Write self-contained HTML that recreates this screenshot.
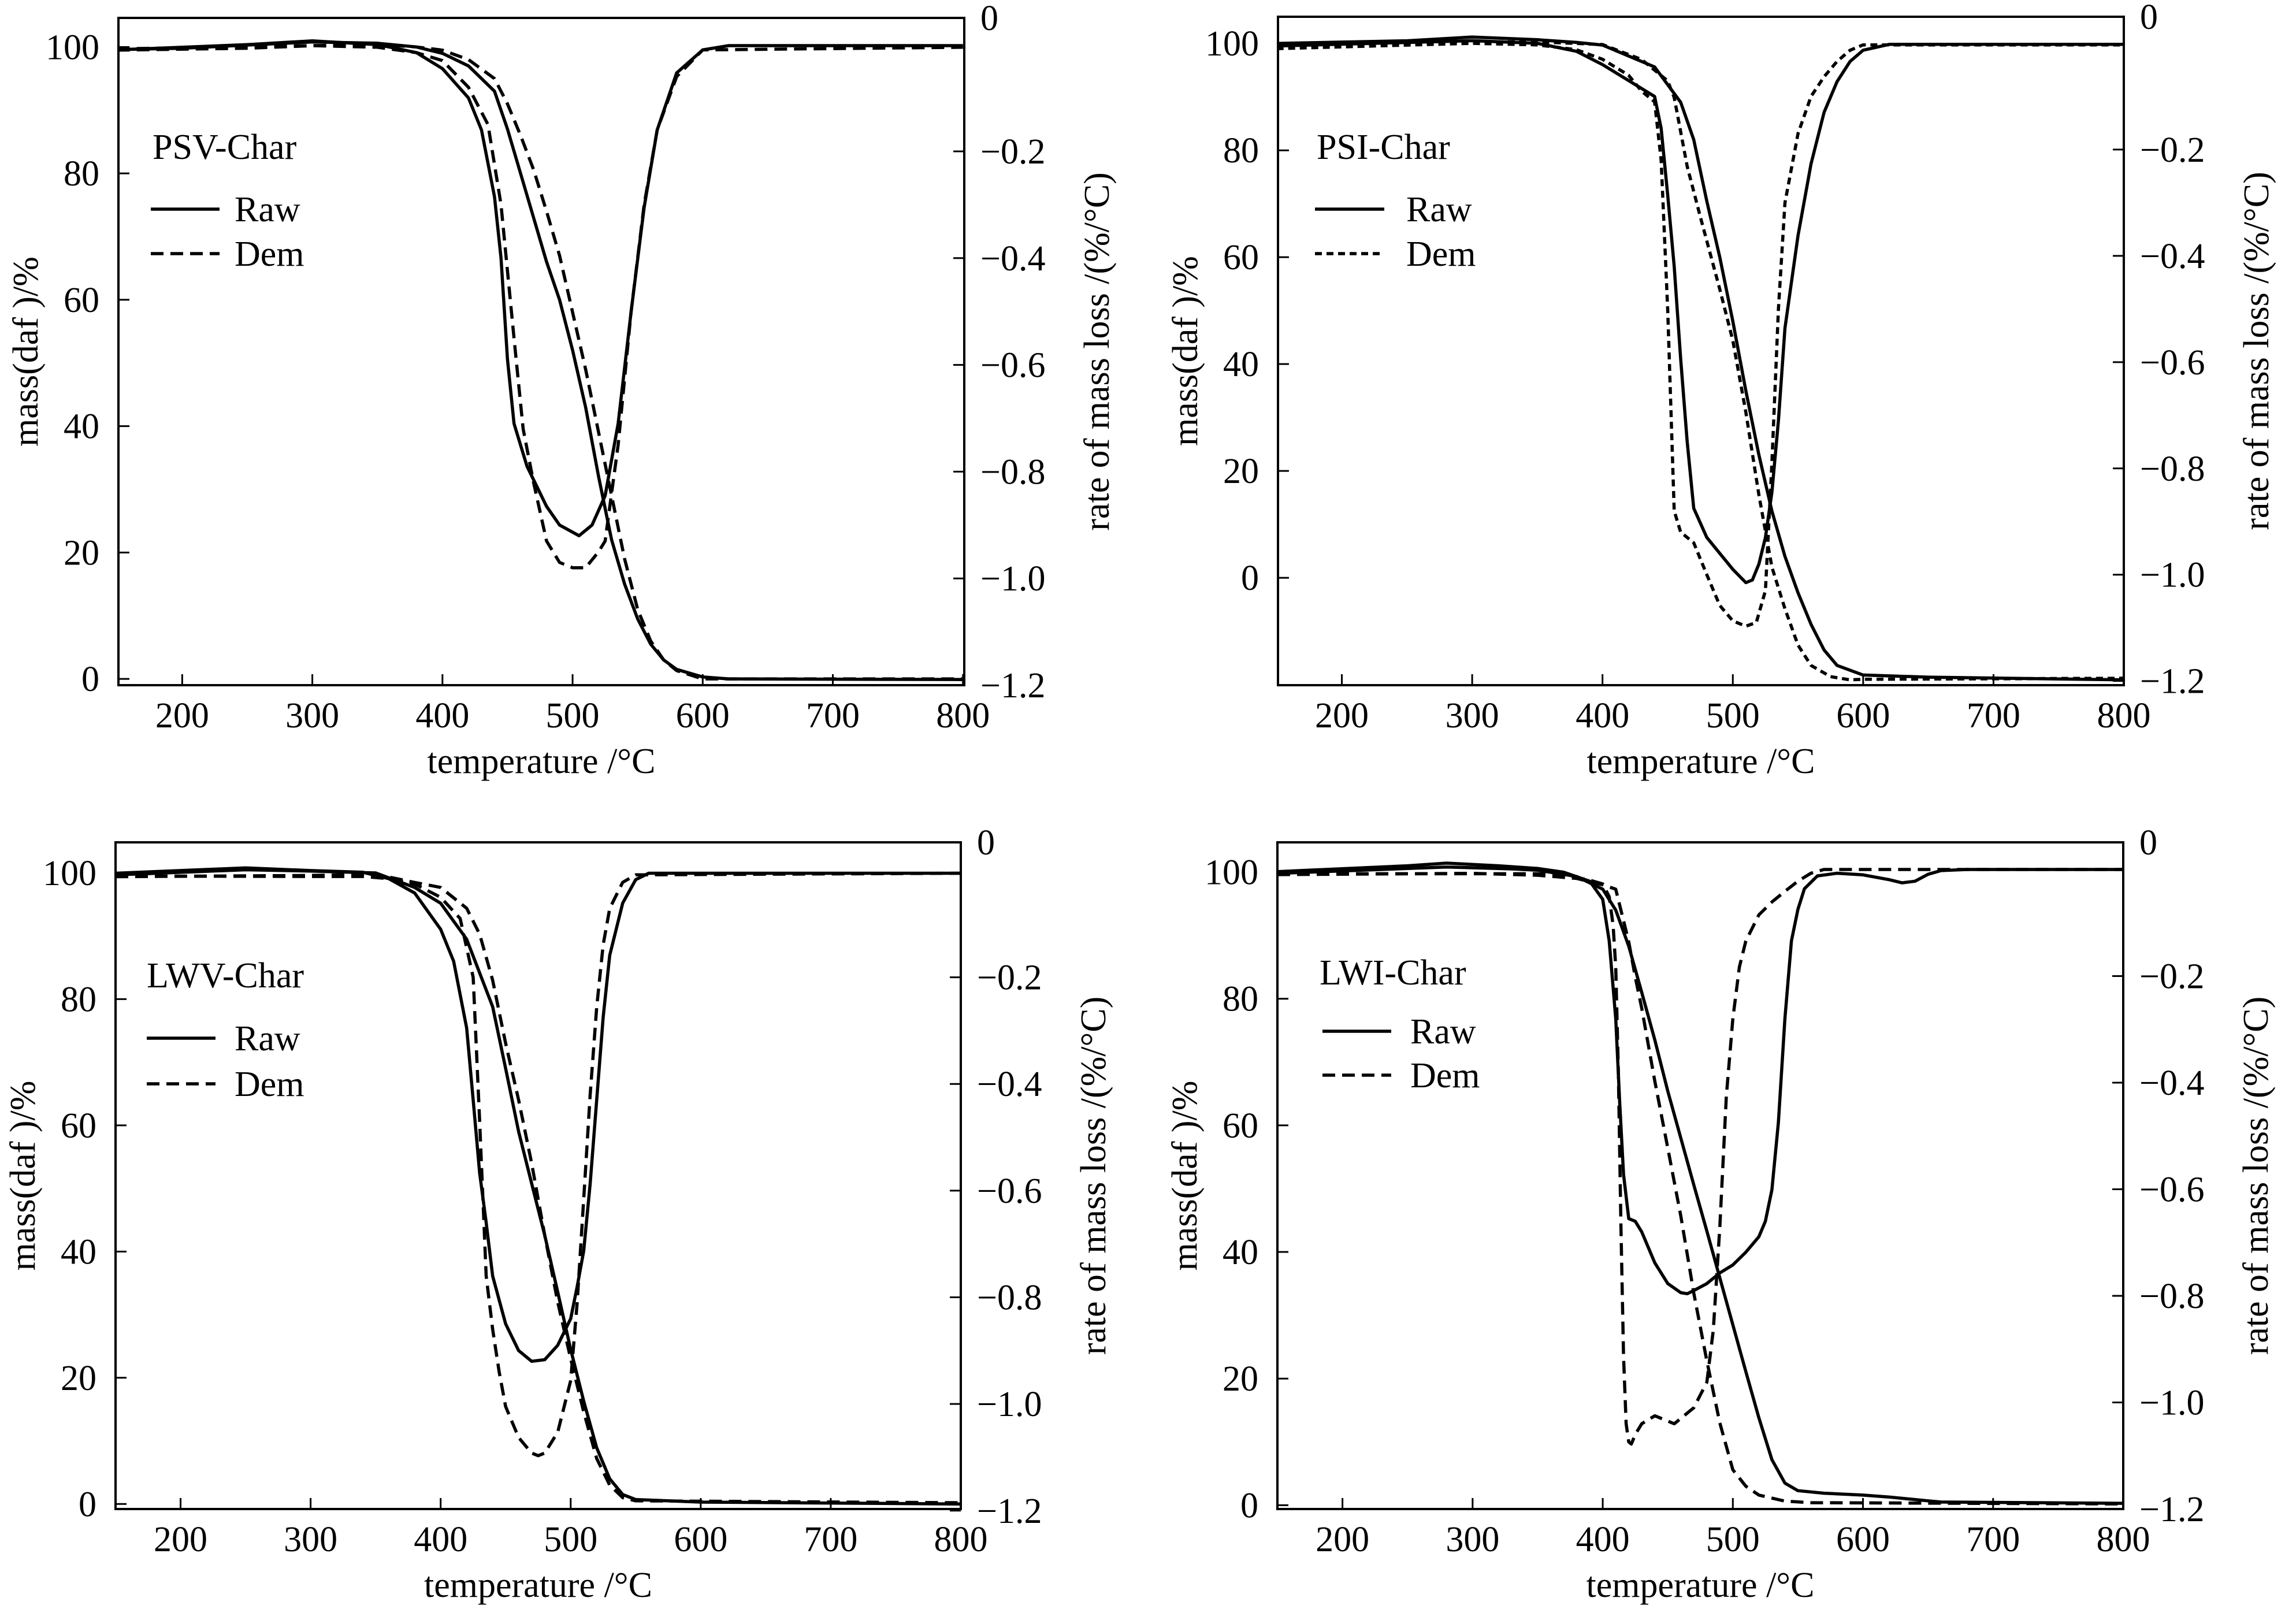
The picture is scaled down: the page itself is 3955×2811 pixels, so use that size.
<!DOCTYPE html>
<html><head><meta charset="utf-8"><style>
html,body{margin:0;padding:0;background:#fff}
svg{display:block}
text{font-family:"Liberation Serif",serif;fill:#000}
</style></head><body>
<svg id="fig" xmlns="http://www.w3.org/2000/svg" width="3955" height="2811" viewBox="0 0 3955 2811"></svg>
<script>
// ---------- data: [temperature, value] ----------
const xTicks = [200,300,400,500,600,700,800];
const massTicks = [0,20,40,60,80,100];
const rateTicks = [0,-0.2,-0.4,-0.6,-0.8,-1.0,-1.2];
const rateTickLabels = ["0","\u22120.2","\u22120.4","\u22120.6","\u22120.8","\u22121.0","\u22121.2"];

// PSV-Char
const psvRawTG = [[150,99.6],[200,99.8],[250,100.3],[300,100.8],[350,100.6],[380,100],[400,99],[420,97],[440,93],[450,87],[460,80],[470,73],[480,66],[490,60],[500,52],[510,43],[520,32],[530,22],[540,15],[550,9.5],[560,5.5],[570,3],[580,1.5],[600,0.3],[620,0],[800,-0.1]];
const psvDemTG = [[150,99.5],[250,99.8],[300,100.2],[350,100.4],[380,100],[400,99.5],[420,98],[440,95],[450,91],[460,86],[470,80.6],[480,74],[490,67],[500,58],[510,49],[520,39],[530,29],[540,19],[550,11],[560,6],[570,3],[580,1.3],[600,0],[800,0]];
const psvRawDTG = [[150,-0.01],[250,0.0],[300,0.007],[350,0],[380,-0.015],[400,-0.045],[420,-0.1],[430,-0.16],[440,-0.285],[445,-0.4],[450,-0.59],[455,-0.71],[465,-0.79],[480,-0.865],[490,-0.9],[505,-0.92],[515,-0.9],[525,-0.845],[535,-0.71],[545,-0.5],[555,-0.305],[565,-0.16],[580,-0.053],[600,-0.01],[620,-0.002],[800,-0.002]];
const psvDemDTG = [[150,-0.008],[300,-0.002],[350,-0.005],[380,-0.015],[400,-0.03],[420,-0.08],[435,-0.15],[445,-0.3],[455,-0.55],[462,-0.72],[470,-0.82],[480,-0.93],[490,-0.97],[500,-0.98],[510,-0.98],[520,-0.95],[525,-0.93],[535,-0.75],[545,-0.5],[555,-0.3],[565,-0.16],[580,-0.06],[600,-0.01],[800,-0.005]];

// PSI-Char
const psiRawTG = [[150,100],[250,100.5],[300,101.2],[350,100.7],[380,100.2],[400,99.7],[440,95.6],[460,89],[470,82],[480,70.5],[490,60],[500,48],[510,35],[520,23],[530,12.5],[540,4],[550,-2.8],[560,-8.7],[570,-13.5],[580,-16.4],[600,-18.2],[650,-18.6],[800,-19.1]];
const psiDemTG = [[150,99.6],[300,100.3],[350,100.3],[380,100],[400,99.8],[430,97],[450,93],[455,89.9],[465,77],[475,67.6],[490,54],[500,44.4],[510,31],[520,15.5],[530,2],[540,-5.8],[550,-12.6],[560,-16.4],[575,-18.5],[590,-19.1],[600,-19],[800,-18.8]];
const psiRawDTG = [[150,-0.005],[300,0.005],[350,0],[380,-0.015],[400,-0.04],[420,-0.07],[440,-0.1],[445,-0.16],[450,-0.285],[455,-0.42],[460,-0.594],[465,-0.75],[470,-0.875],[480,-0.93],[490,-0.96],[500,-0.99],[510,-1.015],[515,-1.01],[520,-0.98],[525,-0.93],[530,-0.845],[535,-0.71],[540,-0.536],[550,-0.362],[560,-0.227],[570,-0.13],[580,-0.072],[590,-0.034],[600,-0.013],[620,-0.002],[800,-0.002]];
const psiDemDTG = [[150,-0.01],[300,0],[350,-0.003],[380,-0.012],[400,-0.03],[420,-0.06],[430,-0.09],[440,-0.11],[445,-0.22],[450,-0.5],[455,-0.88],[460,-0.92],[470,-0.94],[480,-1.0],[490,-1.058],[500,-1.087],[510,-1.097],[518,-1.09],[525,-1.03],[530,-0.79],[535,-0.5],[540,-0.3],[550,-0.17],[560,-0.1],[570,-0.063],[580,-0.034],[590,-0.013],[600,-0.003],[800,-0.003]];

// LWV-Char
const lwvRawTG = [[150,99.7],[250,100.5],[300,100.3],[350,100],[380,97.7],[400,95.2],[420,89.5],[440,78.8],[450,69],[460,59],[470,50.8],[480,42.6],[490,33.6],[500,24.5],[510,16.3],[520,8.9],[530,4],[540,1.5],[550,0.7],[600,0.3],[800,0]];
const lwvDemTG = [[150,99.4],[300,99.6],[350,99.8],[380,98.5],[400,97.7],[420,94.4],[430,90.3],[440,83],[450,73],[460,64],[470,54],[480,42.6],[490,32],[500,23],[510,14.6],[520,7.2],[530,3],[540,1],[550,0.5],[800,0.2]];
const lwvRawDTG = [[150,-0.005],[250,0.005],[300,0],[340,-0.003],[360,-0.015],[380,-0.042],[400,-0.11],[410,-0.17],[420,-0.295],[425,-0.43],[430,-0.567],[435,-0.66],[440,-0.76],[450,-0.85],[460,-0.9],[470,-0.92],[480,-0.917],[490,-0.89],[500,-0.84],[505,-0.78],[510,-0.713],[515,-0.587],[520,-0.43],[525,-0.275],[530,-0.159],[540,-0.061],[550,-0.017],[560,-0.005],[800,-0.005]];
const lwvDemDTG = [[150,-0.01],[300,-0.011],[340,-0.011],[360,-0.015],[380,-0.025],[400,-0.05],[415,-0.09],[425,-0.2],[430,-0.47],[435,-0.76],[440,-0.86],[445,-0.94],[450,-1.005],[460,-1.063],[470,-1.092],[475,-1.097],[480,-1.092],[490,-1.053],[500,-0.956],[505,-0.81],[510,-0.616],[515,-0.42],[520,-0.256],[525,-0.139],[530,-0.071],[540,-0.022],[550,-0.008],[800,-0.005]];

// LWI-Char
const lwiRawTG = [[150,99.8],[280,100.8],[330,100.5],[350,100.3],[380,99.3],[400,97.3],[410,94],[420,88.3],[430,81],[440,73.5],[450,65.4],[460,58],[470,50.6],[480,43.3],[490,35.9],[500,28.5],[510,21.1],[520,13.8],[530,7.2],[540,3.5],[550,2.3],[570,1.9],[600,1.6],[620,1.3],[650,0.7],[660,0.5],[800,0.3]];
const lwiDemTG = [[150,99.6],[300,99.8],[350,99.5],[380,99],[400,98],[410,97.3],[420,89],[425,83.4],[430,78.5],[440,67],[450,56.4],[460,45.7],[470,33.5],[480,22.8],[490,13],[500,5.6],[510,3],[520,1.6],[540,0.65],[560,0.4],[800,0.2]];
const lwiRawDTG = [[150,-0.004],[250,0.007],[280,0.012],[320,0.007],[350,0.002],[370,-0.005],[390,-0.022],[400,-0.056],[405,-0.134],[410,-0.28],[413,-0.436],[416,-0.572],[420,-0.655],[425,-0.66],[430,-0.68],[440,-0.738],[450,-0.777],[460,-0.794],[465,-0.796],[470,-0.79],[480,-0.777],[490,-0.757],[500,-0.742],[510,-0.718],[520,-0.689],[525,-0.66],[530,-0.601],[535,-0.475],[540,-0.28],[545,-0.134],[550,-0.075],[555,-0.036],[565,-0.012],[580,-0.007],[600,-0.01],[620,-0.019],[630,-0.025],[640,-0.022],[650,-0.009],[660,-0.002],[680,0],[800,0]];
const lwiDemDTG = [[150,-0.008],[200,-0.008],[350,-0.008],[370,-0.01],[390,-0.02],[400,-0.027],[405,-0.051],[408,-0.105],[410,-0.183],[412,-0.377],[414,-0.669],[416,-0.913],[418,-1.04],[420,-1.074],[422,-1.078],[425,-1.06],[430,-1.04],[440,-1.025],[450,-1.035],[455,-1.04],[460,-1.03],[470,-1.01],[480,-0.962],[485,-0.864],[490,-0.67],[495,-0.426],[500,-0.28],[505,-0.183],[510,-0.134],[520,-0.085],[530,-0.061],[540,-0.041],[550,-0.022],[560,-0.007],[570,0],[800,0]];

// ---------- layout ----------
const panels = [
  {key:"psv", title:"PSV-Char", box:[205,31,1669,1186], xd:[151,801], md:[-1.0,104.6], rd:[-1.2,0.05], dash:"22 12",
   leg:{x:264,y:254,lx1:261,lx2:380,tx:406,ry:362,dy:439}, raw:[psvRawTG,psvRawDTG], dem:[psvDemTG,psvDemDTG]},
  {key:"psi", title:"PSI-Char", box:[2212,29,3676,1186], xd:[151,800], md:[-20.1,105.0], rd:[-1.208,0.05], dash:"12 8",
   leg:{x:2279,y:254,lx1:2276,lx2:2396,tx:2434,ry:362,dy:439}, raw:[psiRawTG,psiRawDTG], dem:[psiDemTG,psiDemDTG]},
  {key:"lwv", title:"LWV-Char", box:[200,1458,1663,2612], xd:[150,800], md:[-0.8,104.85], rd:[-1.197,0.053], dash:"22 12",
   leg:{x:254,y:1688,lx1:254,lx2:373,tx:406,ry:1797,dy:1876}, raw:[lwvRawTG,lwvRawDTG], dem:[lwvDemTG,lwvDemDTG]},
  {key:"lwi", title:"LWI-Char", box:[2211,1458,3675,2612], xd:[150,800], md:[-0.6,104.7], rd:[-1.2,0.051], dash:"22 12",
   leg:{x:2284,y:1683,lx1:2289,lx2:2408,tx:2441,ry:1785,dy:1861}, raw:[lwiRawTG,lwiRawDTG], dem:[lwiDemTG,lwiDemDTG]}
];

const NS = "http://www.w3.org/2000/svg";
const svg = document.getElementById("fig");
function mk(tag, attrs, parent){
  const e = document.createElementNS(NS, tag);
  for (const k in attrs) e.setAttribute(k, attrs[k]);
  (parent||svg).appendChild(e);
  return e;
}
const FS = 62;

panels.forEach(p => {
  const [L,T,R,B] = p.box;
  const sx = v => L + (v - p.xd[0]) / (p.xd[1]-p.xd[0]) * (R-L);
  const sm = v => B - (v - p.md[0]) / (p.md[1]-p.md[0]) * (B-T);
  const sr = v => B - (v - p.rd[0]) / (p.rd[1]-p.rd[0]) * (B-T);

  const g = mk("g", {});
  
  

  // curves (clipped)
  const clipId = "clip-" + p.key;
  const cp = mk("clipPath", {id: clipId}, g);
  mk("rect", {x:L, y:T, width:R-L, height:B-T}, cp);
  const cg = mk("g", {"clip-path":"url(#"+clipId+")"}, g);
  const series = [
    {d:p.raw[0], s:sm, dash:null, n:"raw-mass-curve"},
    {d:p.dem[0], s:sm, dash:p.dash, n:"dem-mass-curve"},
    {d:p.raw[1], s:sr, dash:null, n:"raw-rate-curve"},
    {d:p.dem[1], s:sr, dash:p.dash, n:"dem-rate-curve"}
  ];
  series.forEach(se => {
    const pts = se.d.map(q => sx(q[0]).toFixed(1) + "," + se.s(q[1]).toFixed(1)).join(" ");
    const pl = mk("polyline", {points:pts, fill:"none", stroke:"#000", "stroke-width":5.5, "stroke-linejoin":"round", "stroke-linecap":"butt"}, cg);
    if (se.dash) pl.setAttribute("stroke-dasharray", se.dash);
    
    
  });

  // frame
  const fr = mk("rect", {x:L, y:T, width:R-L, height:B-T, fill:"none", stroke:"#000", "stroke-width":4}, g);
  
  

  // x ticks
  xTicks.forEach(v => {
    const x = sx(v);
    mk("line", {x1:x, y1:B, x2:x, y2:B-19, stroke:"#000", "stroke-width":3}, g);
    const t = mk("text", {x:x, y:B+73, "font-size":FS, "text-anchor":"middle"}, g);
    t.textContent = v;
    
    
  });
  // left mass ticks
  massTicks.forEach(v => {
    const y = sm(v);
    mk("line", {x1:L, y1:y, x2:L+19, y2:y, stroke:"#000", "stroke-width":3}, g);
    const t = mk("text", {x:L-33, y:y+21, "font-size":FS, "text-anchor":"end"}, g);
    t.textContent = v;
    
    
  });
  // right rate ticks
  rateTicks.forEach((v,i) => {
    const y = (i === 0) ? T : sr(v);
    if (i > 0) mk("line", {x1:R, y1:y, x2:R-19, y2:y, stroke:"#000", "stroke-width":3}, g);
    const t = mk("text", {x:R+28, y:y+21, "font-size":FS, "text-anchor":"start"}, g);
    t.textContent = rateTickLabels[i];
    
    
  });

  // axis titles
  const cx = (L+R)/2, cy = (T+B)/2;
  const xt = mk("text", {x:cx, y:B+152, "font-size":FS, "text-anchor":"middle"}, g);
  xt.textContent = "temperature /\u00B0C";
  
  
  const ly = mk("text", {x:0, y:0, "font-size":FS, "text-anchor":"middle", "dominant-baseline":"central", transform:"translate("+(L-160)+","+cy+") rotate(-90)"}, g);
  ly.textContent = "mass(daf )/%";
  
  
  const ry = mk("text", {x:0, y:0, "font-size":FS, "text-anchor":"middle", "dominant-baseline":"central", transform:"translate("+(R+230)+","+cy+") rotate(-90)"}, g);
  ry.textContent = "rate of mass loss /(%/\u00B0C)";
  
  

  // legend
  const lg = p.leg;
  const tt = mk("text", {x:lg.x, y:lg.y+21, "font-size":FS}, g);
  tt.textContent = p.title;
  
  
  const l1 = mk("line", {x1:lg.lx1, y1:lg.ry, x2:lg.lx2, y2:lg.ry, stroke:"#000", "stroke-width":5.5}, g);
  
  
  const t1 = mk("text", {x:lg.tx, y:lg.ry+21, "font-size":FS}, g);
  t1.textContent = "Raw";
  
  
  const l2 = mk("line", {x1:lg.lx1, y1:lg.dy, x2:lg.lx2, y2:lg.dy, stroke:"#000", "stroke-width":5.5, "stroke-dasharray":p.dash}, g);
  
  
  const t2 = mk("text", {x:lg.tx, y:lg.dy+21, "font-size":FS}, g);
  t2.textContent = "Dem";
  
  
});
</script>
</body></html>
